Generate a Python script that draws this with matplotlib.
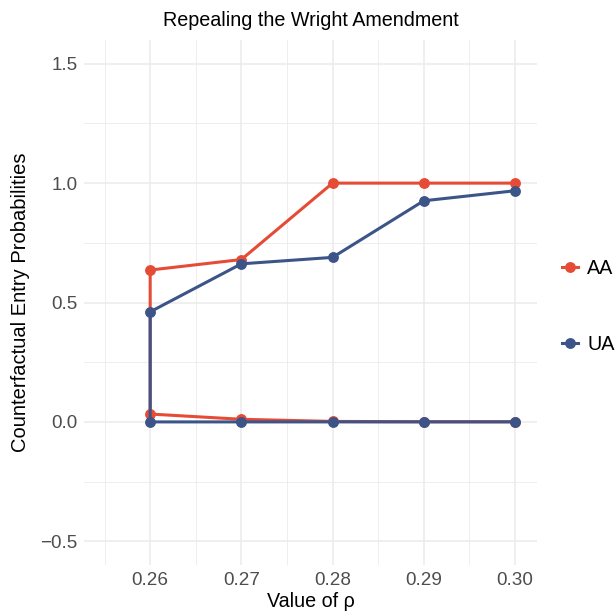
import matplotlib.pyplot as plt
from matplotlib.lines import Line2D
from matplotlib.ticker import MultipleLocator

plt.rcParams['font.family'] = ['Liberation Sans', 'DejaVu Sans']

rho = [0.26, 0.27, 0.28, 0.29, 0.30]
aa_high = [0.636, 0.680, 1.0, 1.0, 1.0]
aa_low = [0.033, 0.011, 0.002, 0.001, 0.001]
ua_high = [0.461, 0.662, 0.689, 0.926, 0.968]
ua_low = [0.0, 0.0, 0.0, 0.0, 0.0]

red = '#E64B35'
blue = '#3C5488'

fig = plt.figure(figsize=(6.15, 6.13), dpi=100)
ax = fig.add_axes([0.137, 0.078, 0.736, 0.857])

for high, low, col in [(aa_high, aa_low, red), (ua_high, ua_low, blue)]:
    xs = rho[::-1] + rho
    ys = high[::-1] + low
    ax.plot(xs, ys, color=col, lw=2.2, marker='o', ms=6.8, solid_joinstyle='miter')

ax.set_xlim(0.25277, 0.30241)
ax.set_ylim(-0.6, 1.6)
ax.set_xticks(rho)
ax.set_xticklabels(['0.26', '0.27', '0.28', '0.29', '0.30'])
ax.set_yticks([-0.5, 0.0, 0.5, 1.0, 1.5])
ax.set_yticklabels(['\u22120.5', '0.0', '0.5', '1.0', '1.5'])
ax.xaxis.set_minor_locator(MultipleLocator(0.005))
ax.yaxis.set_minor_locator(MultipleLocator(0.25))
ax.grid(which='major', color='#EBEBEB', lw=1.1)
ax.grid(which='minor', color='#EBEBEB', lw=0.6)
ax.set_axisbelow(True)
for s in ax.spines.values():
    s.set_visible(False)
ax.tick_params(which='both', length=0, labelsize=13.6, labelcolor='#4D4D4D', pad=5)

ax.set_xlabel('Value of \u03c1', fontsize=14.2, labelpad=2)
ax.set_ylabel('Counterfactual Entry Probabilities', fontsize=14.5, labelpad=7)
ax.set_title('Repealing the Wright Amendment', fontsize=14.2, pad=10)

handles = [Line2D([], [], color=red, lw=2.2, marker='o', ms=6.8),
           Line2D([], [], color=blue, lw=2.2, marker='o', ms=6.8)]
fig.legend(handles, ['AA', 'UA'], loc='center left', bbox_to_anchor=(0.897, 0.5),
           frameon=False, fontsize=14.2, handlelength=0.85, labelspacing=2.9,
           handletextpad=0.45, borderaxespad=0.1)

fig.savefig('out.png', dpi=100)
